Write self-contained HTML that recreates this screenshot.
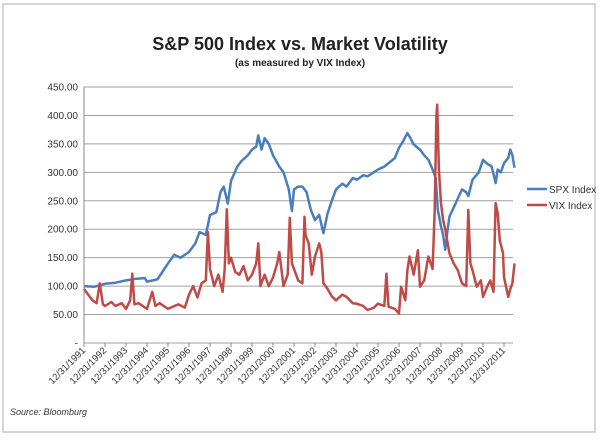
<!DOCTYPE html>
<html><head><meta charset="utf-8"><style>
body{margin:0;background:#fff;font-family:"Liberation Sans",sans-serif}
</style></head><body>
<svg id="c" width="600" height="438" xmlns="http://www.w3.org/2000/svg">
<rect x="3" y="4" width="592" height="428" fill="#fff" stroke="#c8c8c8" stroke-width="1.5"/>
<text x="300" y="50" text-anchor="middle" font-size="18" font-weight="bold" fill="#222">S&amp;P 500 Index vs. Market Volatility</text>
<text x="300" y="66" text-anchor="middle" font-size="10" font-weight="bold" fill="#222">(as measured by VIX Index)</text>
<g id="grid"></g><g id="series"></g><g id="axes"></g>
<g>
<line x1="527" y1="189" x2="547" y2="189" stroke="#4a7ebb" stroke-width="2.5"/>
<text x="549" y="193" font-size="10" fill="#333">SPX Index</text>
<line x1="527" y1="205" x2="547" y2="205" stroke="#be4b48" stroke-width="2.5"/>
<text x="549" y="209" font-size="10" fill="#333">VIX Index</text>
</g>
<text x="10" y="415" font-size="9" font-style="italic" fill="#333">Source: Bloomburg</text>
</svg>
<script>
const yTicks=[0,50,100,150,200,250,300,350,400,450];
const xYears=[1991,1992,1993,1994,1995,1996,1997,1998,1999,2000,2001,2002,2003,2004,2005,2006,2007,2008,2009,2010,2011];
const spxT=[1991,1991.5,1992,1992.5,1993,1993.5,1993.9,1994,1994.5,1995,1995.3,1995.6,1996,1996.3,1996.5,1996.8,1997,1997.3,1997.5,1997.65,1997.75,1997.85,1998,1998.3,1998.5,1998.8,1999,1999.2,1999.3,1999.45,1999.6,1999.8,2000,2000.3,2000.5,2000.75,2000.9,2001,2001.2,2001.4,2001.6,2001.8,2002,2002.2,2002.4,2002.6,2002.8,2003,2003.3,2003.5,2003.8,2004,2004.3,2004.5,2004.8,2005,2005.3,2005.5,2005.8,2006,2006.2,2006.4,2006.55,2006.7,2007,2007.2,2007.4,2007.6,2007.75,2007.85,2008,2008.1,2008.2,2008.3,2008.4,2008.7,2009,2009.2,2009.3,2009.5,2009.8,2010,2010.2,2010.4,2010.55,2010.6,2010.7,2010.85,2011,2011.2,2011.3,2011.4,2011.5];
const spxV=[100,99,104,106,110,113,114,108,112,140,155,150,160,175,195,190,225,230,265,275,260,245,285,310,320,330,340,345,365,340,360,350,330,310,300,270,232,270,275,275,265,234,216,225,193,228,250,270,280,275,290,287,295,293,300,305,310,316,325,343,355,369,360,349,340,330,322,305,290,234,205,190,164,195,222,246,270,265,258,287,300,322,315,311,290,281,305,300,316,325,340,330,308];
const vixT=[1991,1991.2,1991.4,1991.6,1991.75,1991.9,1992,1992.3,1992.5,1992.8,1993,1993.2,1993.3,1993.4,1993.6,1994,1994.1,1994.25,1994.4,1994.6,1995,1995.3,1995.5,1995.8,1996,1996.2,1996.4,1996.6,1996.8,1996.9,1997,1997.2,1997.4,1997.6,1997.7,1997.8,1997.9,1998,1998.2,1998.4,1998.6,1998.8,1999,1999.2,1999.3,1999.4,1999.6,1999.8,2000,2000.2,2000.3,2000.5,2000.7,2000.8,2000.9,2001,2001.2,2001.4,2001.5,2001.55,2001.7,2001.85,2002,2002.2,2002.3,2002.4,2002.6,2002.8,2003,2003.3,2003.5,2003.8,2004,2004.3,2004.5,2004.8,2005,2005.3,2005.4,2005.5,2005.8,2006,2006.1,2006.3,2006.4,2006.5,2006.7,2006.9,2007,2007.2,2007.4,2007.6,2007.7,2007.78,2007.82,2007.9,2008,2008.1,2008.2,2008.4,2008.6,2008.8,2009,2009.2,2009.3,2009.4,2009.5,2009.7,2009.9,2010,2010.2,2010.35,2010.5,2010.6,2010.7,2010.8,2010.95,2011,2011.2,2011.3,2011.4,2011.5];
const vixV=[95,85,75,70,105,68,65,72,65,70,60,75,122,68,70,60,72,90,65,70,60,65,68,62,85,100,80,105,110,195,130,100,120,90,130,235,140,150,125,120,135,110,120,140,175,100,120,100,115,140,160,100,120,220,140,130,110,105,222,190,175,120,152,175,160,105,95,82,75,85,81,70,69,65,58,62,69,65,122,64,60,52,99,75,128,152,120,163,99,110,152,130,234,400,419,305,246,216,200,158,140,128,105,100,234,140,128,99,110,81,99,110,90,246,228,180,158,116,81,95,105,140];
const X0=84,X1=513,PY0=343,PY450=87;
const xs=t=>X0+(t-1991)*21;
const ys=v=>PY0-(v/450)*(PY0-PY450);
const NS="http://www.w3.org/2000/svg";
function mk(tag,attrs,parent){const e=document.createElementNS(NS,tag);for(const k in attrs)e.setAttribute(k,attrs[k]);parent.appendChild(e);return e;}
const grid=document.getElementById('grid'),axes=document.getElementById('axes'),series=document.getElementById('series');
yTicks.forEach(v=>{
 const l=mk('line',{x1:X0,x2:X1,y1:ys(v),y2:ys(v),stroke:'#a0a0a0','stroke-width':1},grid);
 
 
 const t=mk('text',{x:X0-6,y:ys(v)+3.5,'text-anchor':'end','font-size':10,fill:'#333'},axes);
 t.textContent=v===0?'-':v.toFixed(2);
 
 
});
const ya=mk('line',{x1:X0,x2:X0,y1:PY450,y2:PY0,stroke:'#888'},axes);


xYears.forEach(yr=>{
 const x=xs(yr);
 mk('line',{x1:x,x2:x,y1:PY0,y2:PY0+4,stroke:'#888'},axes);
 const t=mk('text',{x:x+2,y:PY0+8,'text-anchor':'end','font-size':9.5,fill:'#333',transform:`rotate(-45 ${x+2} ${PY0+8})`},axes);
 t.textContent='12/31/'+yr;
 
 
});
function line(T,V,color,name){
 const d=T.map((t,i)=>(i?'L':'M')+xs(t).toFixed(1)+','+ys(V[i]).toFixed(1)).join('');
 const p=mk('path',{d:d,fill:'none',stroke:color,'stroke-width':2.5,'stroke-linejoin':'round'},series);
 
 
}
line(spxT,spxV,'#4a7ebb','spx-line');
line(vixT,vixV,'#be4b48','vix-line');
</script>
</body></html>
